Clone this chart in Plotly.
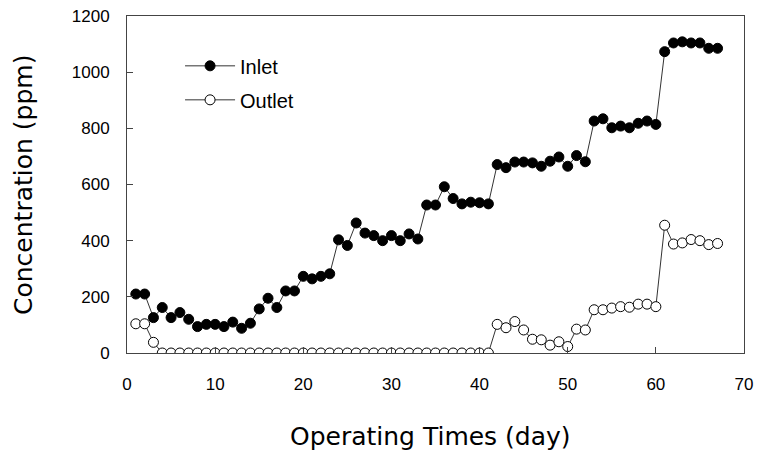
import plotly.graph_objects as go

days = list(range(1, 68))
inlet = [210, 210, 126, 162, 126, 144, 120, 94, 102, 102,
         94, 110, 88, 106, 157, 195, 162, 221, 221, 273,
         264, 273, 282, 403, 383, 463, 427, 418, 400, 418,
         400, 424, 406, 527, 527, 592, 550, 531, 537, 535,
         531, 671, 660, 680, 680, 677, 665, 683, 698, 665,
         703, 681, 826, 834, 802, 808, 802, 818, 826, 814,
         1073, 1104, 1108, 1104, 1104, 1085, 1085]
outlet = [104, 104, 38] + [0] * 38 + [
         102, 90, 112, 82, 49, 47, 28, 40, 23,
         85, 82, 154, 154, 160, 165, 163, 174, 174, 165,
         455, 388, 392, 404, 400, 386, 390]

x_ticks = [0, 10, 20, 30, 40, 50, 60, 70]
y_ticks = [0, 200, 400, 600, 800, 1000, 1200]

FONT = "Liberation Sans, Arial, sans-serif"
TITLE_FONT = "DejaVu Sans, Liberation Sans, sans-serif"

fig = go.Figure()
fig.add_trace(go.Scatter(
    x=days, y=inlet, name="Inlet", mode="lines+markers", legendgroup="a",
    line=dict(color="#333333", width=1),
    marker=dict(symbol="circle", size=10, color="black",
                line=dict(color="black", width=1)),
))
fig.add_trace(go.Scatter(
    x=days[:len(outlet)], y=outlet, name="Outlet", mode="lines+markers", legendgroup="b",
    line=dict(color="#333333", width=1),
    marker=dict(symbol="circle", size=10, color="white",
                line=dict(color="black", width=1)),
))

fig.update_layout(
    width=758, height=455,
    margin=dict(l=127, r=14, t=16, b=102, autoexpand=False),
    paper_bgcolor="white", plot_bgcolor="white",
    font=dict(family=FONT, color="black", size=16),
    showlegend=True,
    legend=dict(x=0.086, y=0.91, xanchor="left", yanchor="top",
                bgcolor="rgba(0,0,0,0)", font=dict(size=20, family=FONT),
                itemwidth=50, tracegroupgap=5, traceorder="grouped"),
    xaxis=dict(
        range=[0, 70], tickvals=x_ticks, ticktext=[str(v) for v in x_ticks],
        ticks="inside", ticklen=6, tickcolor="#444", showgrid=False,
        zeroline=False, showline=True, linecolor="#444", linewidth=1,
        mirror=True, tickfont=dict(size=17, family=FONT),
        ticklabelstandoff=16, automargin=False, ticklabeloverflow="allow",
    ),
    yaxis=dict(
        range=[0, 1200], tickvals=y_ticks, ticktext=[str(v) for v in y_ticks],
        ticks="inside", ticklen=6, tickcolor="#444", showgrid=False,
        zeroline=False, showline=True, linecolor="#444", linewidth=1,
        mirror=True, tickfont=dict(size=17, family=FONT),
        ticklabelstandoff=13, automargin=False, ticklabeloverflow="allow",
    ),
    annotations=[
        dict(text="Operating Times (day)", xref="paper", yref="paper",
             x=0.4927, y=-0.249, xanchor="center", yanchor="middle",
             showarrow=False, font=dict(size=25, family=TITLE_FONT)),
        dict(text="Concentration (ppm)", xref="paper", yref="paper",
             x=-0.1686, y=0.4985, xanchor="center", yanchor="middle",
             textangle=-90, showarrow=False, font=dict(size=25, family=TITLE_FONT)),
    ],
)

fig.write_html("out.html", config={"displayModeBar": False},
               post_script="document.body.style.margin='0';document.body.style.overflow='hidden';")
